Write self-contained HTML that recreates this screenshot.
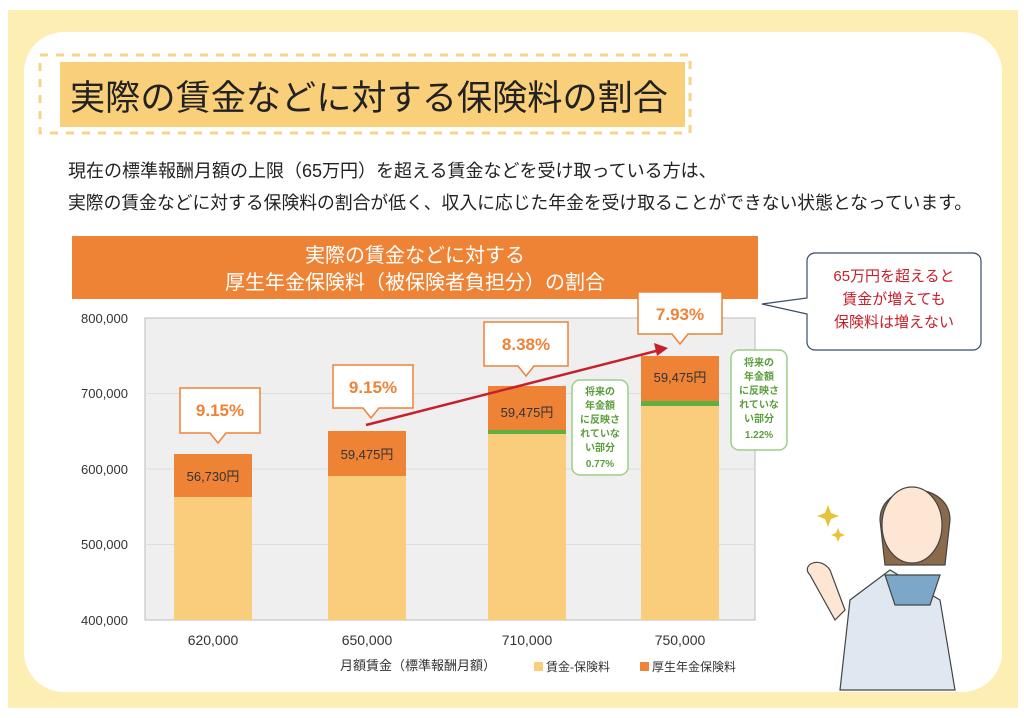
<!DOCTYPE html><html><head><meta charset="utf-8"><style>
body{margin:0;width:1024px;height:713px;overflow:hidden;background:#fff;font-family:"Liberation Sans","Noto Sans CJK JP",sans-serif}
</style></head><body>
<svg width="1024" height="713" xmlns="http://www.w3.org/2000/svg" font-family="Liberation Sans, Noto Sans CJK JP, sans-serif">
<rect x="8" y="10" width="1010" height="698" fill="#fdeeb4"/>
<rect x="24" y="32" width="978" height="660" rx="40" fill="#fff"/>
<rect x="40" y="55" width="650" height="78" fill="none" stroke="#f7d48a" stroke-width="3" stroke-dasharray="8 8"/>
<rect x="60" y="62" width="625" height="65" fill="#f9cf7a"/>
<text x="70" y="110" font-size="35" fill="#222" textLength="598" lengthAdjust="spacingAndGlyphs">実際の賃金などに対する保険料の割合</text>
<text x="68" y="177" font-size="18" fill="#222">現在の標準報酬月額の上限（65万円）を超える賃金などを受け取っている方は、</text>
<text x="68" y="209" font-size="18" fill="#222" textLength="904" lengthAdjust="spacingAndGlyphs">実際の賃金などに対する保険料の割合が低く、収入に応じた年金を受け取ることができない状態となっています。</text>
<rect x="72" y="236" width="686" height="63" fill="#ee8336"/>
<text x="415" y="262" font-size="20" fill="#fff" text-anchor="middle">実際の賃金などに対する</text>
<text x="415" y="289" font-size="20" fill="#fff" text-anchor="middle">厚生年金保険料（被保険者負担分）の割合</text>
<rect x="145" y="318" width="610" height="302" fill="#efefef" stroke="#bbb"/>
<g stroke="#ddd"><line x1="145" y1="393.5" x2="755" y2="393.5"/><line x1="145" y1="469" x2="755" y2="469"/><line x1="145" y1="544.5" x2="755" y2="544.5"/></g>
<g font-size="13" fill="#333" text-anchor="end"><text x="128" y="323">800,000</text><text x="128" y="398">700,000</text><text x="128" y="474">600,000</text><text x="128" y="549">500,000</text><text x="128" y="625">400,000</text></g>
<g fill="#f9cd7b"><rect x="174" y="497" width="78" height="123"/><rect x="328" y="476" width="78" height="144"/><rect x="488" y="433" width="78" height="187"/><rect x="641" y="404" width="78" height="216"/></g>
<g fill="#ee8336"><rect x="174" y="454" width="78" height="43"/><rect x="328" y="431" width="78" height="45"/><rect x="488" y="386" width="78" height="44"/><rect x="641" y="356" width="78" height="45"/></g>
<g fill="#5fb043"><rect x="488" y="430" width="78" height="4"/><rect x="641" y="401" width="78" height="5"/></g>
<g font-size="13" fill="#333" text-anchor="middle"><text x="213" y="481">56,730円</text><text x="367" y="459">59,475円</text><text x="527" y="417">59,475円</text><text x="680" y="382">59,475円</text></g>
<g font-size="14" fill="#333" text-anchor="middle"><text x="213" y="645">620,000</text><text x="367" y="645">650,000</text><text x="527" y="645">710,000</text><text x="680" y="645">750,000</text></g>
<line x1="366" y1="425" x2="660" y2="350" stroke="#c8202a" stroke-width="2.5"/>
<polygon points="668,348 654,343 657,356" fill="#c8202a"/>
<g fill="#fff" stroke="#ee8336" stroke-width="1.5">
<path d="M180 388h80v45h-34l-8 10-8-10h-30z"/><path d="M333 365h80v43h-34l-8 10-8-10h-30z"/>
<path d="M484 322h84v44h-34l-8 10-8-10h-34z"/><path d="M638 292h84v42h-34l-8 10-8-10h-34z"/></g>
<g font-size="17" font-weight="bold" fill="#ee8336" text-anchor="middle"><text x="220" y="416">9.15%</text><text x="373" y="393">9.15%</text><text x="526" y="350">8.38%</text><text x="680" y="320">7.93%</text></g>
<g fill="#fff" stroke="#9ccf85" stroke-width="1.5"><rect x="572" y="380" width="56" height="95" rx="8"/><rect x="731" y="350" width="56" height="100" rx="8"/></g>
<g font-size="10" fill="#5a9e3c" text-anchor="middle" font-weight="bold">
<text x="600" y="395">将来の</text><text x="600" y="409">年金額</text><text x="600" y="423">に反映さ</text><text x="600" y="437">れていな</text><text x="600" y="451">い部分</text><text x="600" y="467">0.77%</text>
<text x="759" y="366">将来の</text><text x="759" y="380">年金額</text><text x="759" y="394">に反映さ</text><text x="759" y="408">れていな</text><text x="759" y="422">い部分</text><text x="759" y="438">1.22%</text></g>
<path d="M815 253h158a8 8 0 0 1 8 8v81a8 8 0 0 1-8 8h-158a8 8 0 0 1-8-8v-28l-45-10 45-6v-37a8 8 0 0 1 8-8z" fill="#fff" stroke="#3a4a6a" stroke-width="1.2"/>
<g font-size="15" fill="#c8202a" text-anchor="middle"><text x="894" y="281">65万円を超えると</text><text x="894" y="304">賃金が増えても</text><text x="894" y="327">保険料は増えない</text></g>
<text x="340" y="670" font-size="13" fill="#333">月額賃金（標準報酬月額）</text>
<rect x="534" y="662" width="9" height="9" fill="#f9cd7b"/><text x="546" y="671" font-size="12" fill="#333">賃金-保険料</text>
<rect x="640" y="662" width="9" height="9" fill="#ee8336"/><text x="652" y="671" font-size="12" fill="#333">厚生年金保険料</text>
<g fill="#fff" stroke="#444" stroke-width="1.2">
<path d="M840 690l10-90 40-30 50 30 15 90z" fill="#dfe8f0"/>
<path d="M880 520c0-40 70-40 70 0l-5 45h-60z" fill="#8a6a4a"/>
<ellipse cx="912" cy="525" rx="30" ry="38" fill="#fde6d4"/>
<path d="M885 575h55l-10 30h-35z" fill="#7da7c9"/>
<path d="M810 575c-10-10 10-20 20-5l15 40-10 10z" fill="#fde6d4"/></g>
<g fill="#e8c23a"><path d="M828 505l3 8 8 3-8 3-3 8-3-8-8-3 8-3z"/><path d="M838 528l2 5 5 2-5 2-2 5-2-5-5-2 5-2z"/></g>
</svg></body></html>
